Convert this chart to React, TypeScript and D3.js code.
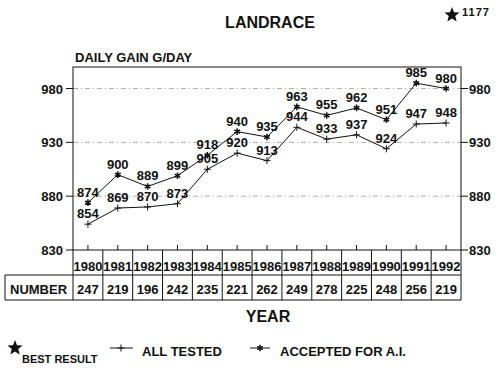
import React from "react";
import * as d3 from "d3";

const years = ["1980","1981","1982","1983","1984","1985","1986","1987","1988","1989","1990","1991","1992"];
const allTested = [854, 869, 870, 873, 905, 920, 913, 944, 933, 937, 924, 947, 948];
const accepted = [874, 900, 889, 899, 918, 940, 935, 963, 955, 962, 951, 985, 980];
const numbers = [247, 219, 196, 242, 235, 221, 262, 249, 278, 225, 248, 256, 219];
const yTicks = [830, 880, 930, 980];
const bestResult = "1177";

const FONT = "'Liberation Sans', Arial, Helvetica, sans-serif";

function starPath(cx: number, cy: number, R: number, r: number) {
  const pts: string[] = [];
  for (let i = 0; i < 10; i++) {
    const a = -Math.PI / 2 + (i * Math.PI) / 5;
    const rad = i % 2 === 0 ? R : r;
    pts.push(`${cx + rad * Math.cos(a)},${cy + rad * Math.sin(a)}`);
  }
  return "M" + pts.join("L") + "Z";
}

export default function App() {
  const W = 500, H = 372;
  const left = 73, right = 461, top = 67, bottom = 250;
  const x = d3.scaleBand<string>().domain(years).range([left, right]).padding(0);
  const y = d3.scaleLinear().domain([830, 1000]).range([bottom, top]);
  const cx = (yr: string) => (x(yr) as number) + x.bandwidth() / 2;
  const line = d3.line<number>().x((_, i) => cx(years[i])).y((d) => y(d));
  const plus = d3.symbol(d3.symbolPlus, 18)()!;
  const aster = d3.symbol(d3.symbolAsterisk, 30)()!;
  const rowYear = [250, 275];
  const rowNum = [275, 300];
  const textStyle = { fontFamily: FONT, fontWeight: 700, fill: "#111" } as const;

  return (
    <svg width={W} height={H} style={{ position: "absolute", left: 0, top: 0, background: "#fff" }}>
      <rect width={W} height={H} fill="#fff" />
      {/* title */}
      <text x={270} y={28} textAnchor="middle" fontSize={16} {...textStyle}>LANDRACE</text>
      <path d={starPath(452, 15, 8, 3.4)} fill="#111" />
      <text x={462} y={16} fontSize={11} letterSpacing={1} {...textStyle}>{bestResult}</text>
      <text x={75} y={62} fontSize={13} {...textStyle}>DAILY GAIN G/DAY</text>

      {/* gridlines */}
      {yTicks.filter((t) => t > 830).map((t) => (
        <line key={"g" + t} x1={left} x2={right} y1={y(t)} y2={y(t)} stroke="#999" strokeWidth={0.8} strokeDasharray="5,3,1,3" />
      ))}
      {/* frame */}
      <rect x={left} y={top} width={right - left} height={bottom - top} fill="none" stroke="#111" strokeWidth={1} />

      {/* y ticks */}
      {yTicks.map((t) => (
        <g key={"t" + t}>
          <line x1={left - 7} x2={left} y1={y(t)} y2={y(t)} stroke="#111" />
          <line x1={right} x2={right + 7} y1={y(t)} y2={y(t)} stroke="#111" />
          <text x={63} y={y(t) + 5} textAnchor="end" fontSize={13} {...textStyle}>{t}</text>
          <text x={469} y={y(t) + 5} fontSize={13} {...textStyle}>{t}</text>
        </g>
      ))}

      {/* x ticks */}
      {years.map((yr) => (
        <line key={"xt" + yr} x1={cx(yr)} x2={cx(yr)} y1={bottom} y2={bottom - 5} stroke="#111" />
      ))}

      {/* table */}
      <line x1={5} x2={right} y1={rowNum[0]} y2={rowNum[0]} stroke="#111" />
      <line x1={5} x2={right} y1={rowNum[1]} y2={rowNum[1]} stroke="#111" />
      <line x1={5} x2={5} y1={rowNum[0]} y2={rowNum[1]} stroke="#111" />
      <line x1={left} x2={left} y1={rowYear[0]} y2={rowNum[1]} stroke="#111" />
      {years.map((yr) => {
        const xr = (x(yr) as number) + x.bandwidth();
        return <line key={"c" + yr} x1={xr} x2={xr} y1={rowYear[0]} y2={rowNum[1]} stroke="#111" />;
      })}
      <text x={10} y={294} fontSize={13} {...textStyle}>NUMBER</text>
      {years.map((yr, i) => (
        <g key={"tx" + yr}>
          <text x={cx(yr)} y={271} textAnchor="middle" fontSize={13} {...textStyle}>{yr}</text>
          <text x={cx(yr)} y={294} textAnchor="middle" fontSize={13} {...textStyle}>{numbers[i]}</text>
        </g>
      ))}
      <text x={268} y={322} textAnchor="middle" fontSize={16} {...textStyle}>YEAR</text>

      {/* series */}
      <path d={line(allTested)!} fill="none" stroke="#111" strokeWidth={1} />
      <path d={line(accepted)!} fill="none" stroke="#111" strokeWidth={1} />
      {allTested.map((v, i) => (
        <g key={"a" + i}>
          <path d={plus} transform={`translate(${cx(years[i])},${y(v)})`} fill="none" stroke="#111" strokeWidth={1} />
          <text x={cx(years[i])} y={y(v) - 6} textAnchor="middle" fontSize={13} {...textStyle}>{v}</text>
        </g>
      ))}
      {accepted.map((v, i) => (
        <g key={"b" + i}>
          <path d={aster} transform={`translate(${cx(years[i])},${y(v)})`} fill="none" stroke="#111" strokeWidth={1.5} />
          <text x={cx(years[i])} y={y(v) - 6} textAnchor="middle" fontSize={13} {...textStyle}>{v}</text>
        </g>
      ))}

      {/* legend */}
      <path d={starPath(15, 348, 8, 3.4)} fill="#111" />
      <text x={22} y={363} fontSize={11} {...textStyle}>BEST RESULT</text>
      <line x1={110} x2={133} y1={348} y2={348} stroke="#111" />
      <path d={plus} transform="translate(121,348)" fill="none" stroke="#111" />
      <text x={142} y={356} fontSize={13} {...textStyle}>ALL TESTED</text>
      <line x1={250} x2={270} y1={348} y2={348} stroke="#111" />
      <path d={aster} transform="translate(260,348)" fill="none" stroke="#111" strokeWidth={1.5} />
      <text x={280} y={356} fontSize={13} {...textStyle}>ACCEPTED FOR A.I.</text>
    </svg>
  );
}
